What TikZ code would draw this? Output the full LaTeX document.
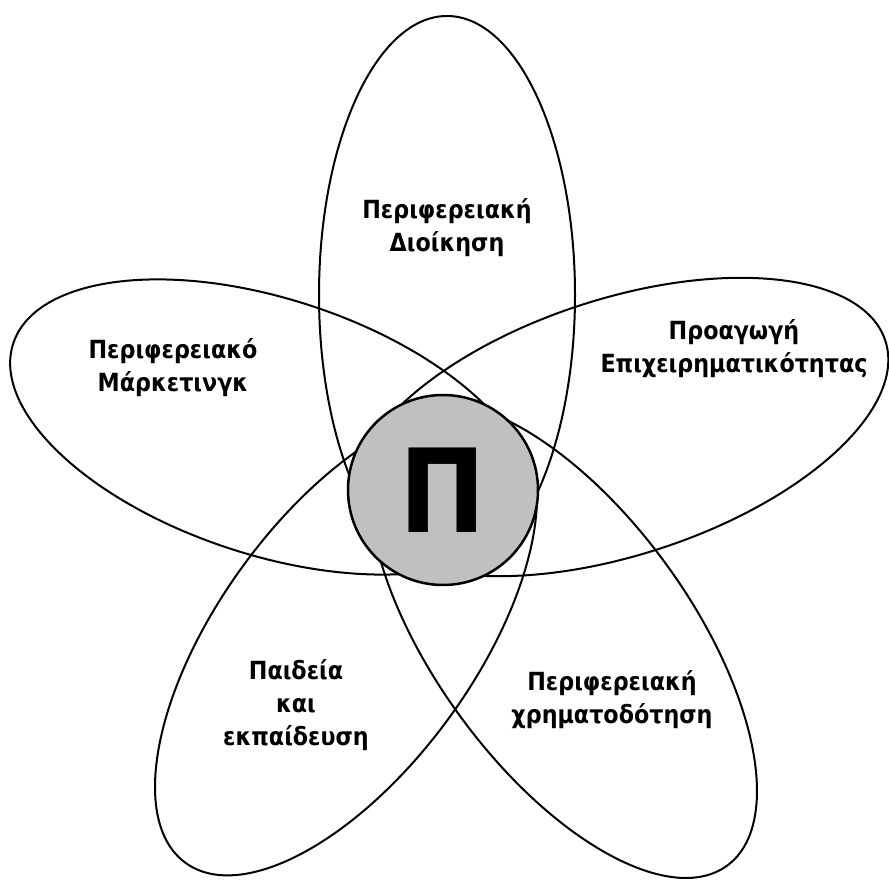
\documentclass[tikz,border=0pt]{standalone}
\usepackage{fontspec}
\setmainfont{DejaVu Sans}[FakeStretch=0.89]
\usetikzlibrary{shapes.geometric}
\usetikzlibrary{positioning}
\definecolor{hubgray}{RGB}{192,192,192}
\tikzset{petal node/.style={shape=ellipse,
    draw, line width=2pt, inner sep=0pt,
    minimum width=558pt, minimum height=256pt}}
\tikzset{hub node/.style={shape=circle,
    draw, line width=2.5pt, inner sep=0pt,
    fill=hubgray, minimum size=190pt}}
\tikzset{text node/.style={align=center,
    font=\bfseries\fontsize{25}{33}\selectfont}}

\begin{document}
\begin{tikzpicture}[x=1pt,y=1pt]
    \useasboundingbox (0,0) rectangle (889,881);

    % petals
    \node[petal node, rotate=90]  (1) at (447,586) {};
    \node[petal node, rotate=-18, minimum width=540pt] (2) at (270,454) {};
    \node[petal node, rotate=18]  (3) at (620,454) {};
    \node[petal node, rotate=54, minimum width=546pt]  (4) at (346,239) {};
    \node[petal node, rotate=-54] (5) at (563,241) {};

    % centre
    \node[hub node] (0) at (443,391) {\fontsize{116}{116}\selectfont\bfseries Π};

    % labels
    \node[text node] (6)  at (447,653) {Περιφερειακή\\Διοίκηση};
    \node[text node] (7)  at (173,513) {Περιφερειακό\\Μάρκετινγκ};
    \node[text node] (8)  at (734,532) {Προαγωγή\\Επιχειρηματικότητας};
    \node[text node] (9)  at (296,176) {Παιδεία\\και\\εκπαίδευση};
    \node[text node] (10) at (612,181) {Περιφερειακή\\χρηματοδότηση};
\end{tikzpicture}
\end{document}
